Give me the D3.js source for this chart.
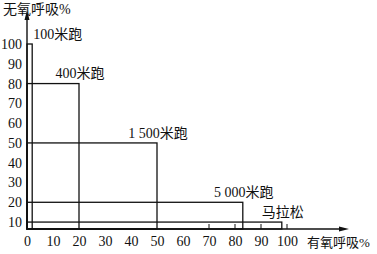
<!DOCTYPE html>
<html>
<head>
<meta charset="utf-8">
<script src="https://cdn.jsdelivr.net/npm/d3@7"></script>
<style>
  body { margin: 0; background: #fff; }
  svg { display: block; }
  text { font-family: "Liberation Serif", "Noto Sans CJK SC", serif; fill: #111; }
</style>
</head>
<body>
<div id="chart"></div>
<script>
// events, anaerobic share (%), aerobic share (%)
var events    = ["100米跑", "400米跑", "1 500米跑", "5 000米跑", "马拉松"];
var anaerobic = [100, 80, 50, 20, 10];
var aerobic   = [2, 20, 50, 83, 98];

var xTicks = [0, 10, 20, 30, 40, 50, 60, 70, 80, 90, 100];
var yTicks = [10, 20, 30, 40, 50, 60, 70, 80, 90, 100];
var xMarks = [70, 80, 90, 100];   // little tick marks on the x axis

var width = 377, height = 254;
var x0 = 27, y0 = 229;

var x = d3.scaleLinear().domain([0, 100]).range([x0, 287]);
// the y axis is squeezed at the bottom: baseline sits a bit under 10
var y = d3.scaleLinear().domain([6.5, 100]).range([y0, 44]);

var svg = d3.select("#chart")
    .append("svg")
    .attr("width", width)
    .attr("height", height);

var ink = "#111";

// rectangles, one per event
svg.append("g")
    .selectAll("rect")
    .data(events)
    .enter().append("rect")
    .attr("x", x(0))
    .attr("y", function(d, i) { return y(anaerobic[i]); })
    .attr("width", function(d, i) { return x(aerobic[i]) - x(0); })
    .attr("height", function(d, i) { return y0 - y(anaerobic[i]); })
    .attr("fill", "none")
    .attr("stroke", ink)
    .attr("stroke-width", 1.3);

// event labels above each rectangle
svg.append("g")
    .selectAll("text")
    .data(events)
    .enter().append("text")
    .attr("x", function(d, i) { return x(aerobic[i]) + (i == 0 ? 1 : 1); })
    .attr("y", function(d, i) { return y(anaerobic[i]) - 10; })
    .attr("dy", "0.35em")
    .attr("text-anchor", function(d, i) { return i == 0 ? "start" : "middle"; })
    .style("font-size", "14px")
    .text(function(d) { return d; });

// axes lines with arrows
svg.append("line")
    .attr("x1", x0).attr("y1", y0)
    .attr("x2", x0).attr("y2", 16)
    .attr("stroke", ink).attr("stroke-width", 1.4);
svg.append("path")
    .attr("d", "M" + x0 + ",10 L" + (x0 - 2.5) + ",20 L" + (x0 + 2.5) + ",20 Z")
    .attr("fill", ink);

svg.append("line")
    .attr("x1", x0).attr("y1", y0)
    .attr("x2", 343).attr("y2", y0)
    .attr("stroke", ink).attr("stroke-width", 1.4);
svg.append("path")
    .attr("d", "M349," + y0 + " L339," + (y0 - 2.5) + " L339," + (y0 + 2.5) + " Z")
    .attr("fill", ink);

// small tick marks
svg.append("g")
    .selectAll("line")
    .data(xMarks)
    .enter().append("line")
    .attr("x1", function(d) { return x(d); })
    .attr("x2", function(d) { return x(d); })
    .attr("y1", y0)
    .attr("y2", y0 - 5)
    .attr("stroke", ink)
    .attr("stroke-width", 1);

// tick labels
var xAxis = svg.append("g")
    .attr("transform", "translate(0," + y0 + ")")
    .call(d3.axisBottom(x).tickValues(xTicks).tickSize(0).tickPadding(7));
xAxis.select(".domain").remove();
xAxis.selectAll("text").style("font-size", "14px").attr("fill", ink);

var yAxis = svg.append("g")
    .attr("transform", "translate(" + x0 + ",0)")
    .call(d3.axisLeft(y).tickValues(yTicks).tickSize(0).tickPadding(5));
yAxis.select(".domain").remove();
yAxis.selectAll("text").style("font-size", "14px").attr("fill", ink);

// axis titles
svg.append("text")
    .attr("x", 3)
    .attr("y", 9)
    .attr("dy", "0.35em")
    .style("font-size", "14px")
    .text("无氧呼吸%");

svg.append("text")
    .attr("x", 307)
    .attr("y", 242)
    .attr("dy", "0.35em")
    .style("font-size", "13px")
    .text("有氧呼吸%");
</script>
</body>
</html>
